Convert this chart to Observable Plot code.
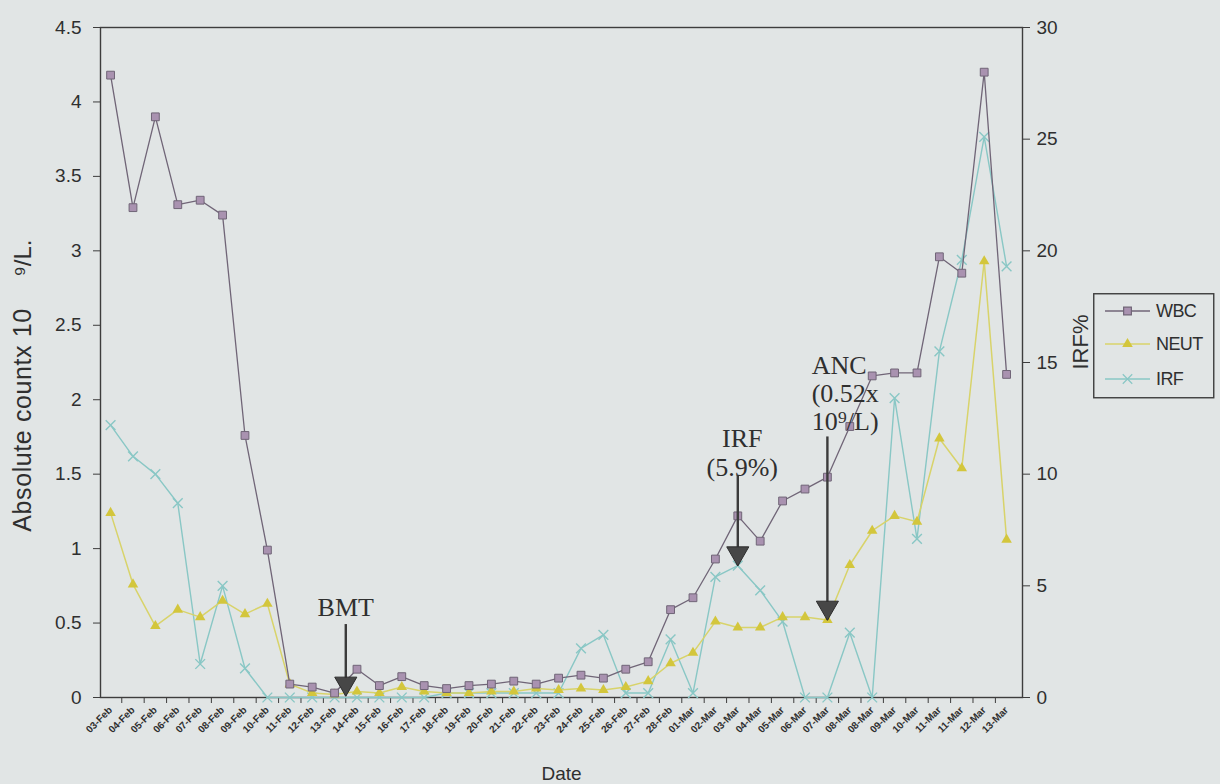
<!DOCTYPE html>
<html>
<head>
<meta charset="utf-8">
<script src="https://cdn.jsdelivr.net/npm/d3@7"></script>
<script src="https://cdn.jsdelivr.net/npm/@observablehq/plot@0.6"></script>
<style>
  html, body { margin: 0; padding: 0; background: #e1e5e5; }
  #wrap { position: relative; width: 1220px; height: 784px; overflow: hidden; }
  #wrap > svg.chart { position: absolute; left: 0; top: 0; }
  #wrap > svg.legend { position: absolute; left: 1093px; top: 293px; }
</style>
</head>
<body>
<div id="wrap"></div>
<script>
// Sampling dates (category axis)
const dates = [
  "03-Feb","04-Feb","05-Feb","06-Feb","07-Feb","08-Feb","09-Feb","10-Feb","11-Feb","12-Feb",
  "13-Feb","14-Feb","15-Feb","16-Feb","17-Feb","18-Feb","19-Feb","20-Feb","21-Feb","22-Feb",
  "23-Feb","24-Feb","25-Feb","26-Feb","27-Feb","28-Feb","01-Mar","02-Mar","03-Mar","04-Mar",
  "05-Mar","06-Mar","07-Mar","08-Mar","08-Mar","09-Mar","10-Mar","11-Mar","11-Mar","12-Mar",
  "13-Mar"
];

// White cell count, x10^9/L (left axis)
const wbc = [
  4.18, 3.29, 3.90, 3.31, 3.34, 3.24, 1.76, 0.99, 0.09, 0.07,
  0.03, 0.19, 0.08, 0.14, 0.08, 0.06, 0.08, 0.09, 0.11, 0.09,
  0.13, 0.15, 0.13, 0.19, 0.24, 0.59, 0.67, 0.93, 1.22, 1.05,
  1.32, 1.40, 1.48, 1.82, 2.16, 2.18, 2.18, 2.96, 2.85, 4.20,
  2.17
];

// Neutrophil count, x10^9/L (left axis)
const neut = [
  1.24, 0.76, 0.48, 0.59, 0.54, 0.65, 0.56, 0.63, 0.09, 0.03,
  0.02, 0.04, 0.03, 0.07, 0.04, 0.03, 0.03, 0.04, 0.04, 0.06,
  0.05, 0.06, 0.05, 0.07, 0.11, 0.23, 0.30, 0.51, 0.47, 0.47,
  0.54, 0.54, 0.52, 0.89, 1.12, 1.22, 1.18, 1.74, 1.54, 2.93,
  1.06
];

// Immature reticulocyte fraction, % (right axis)
const irf = [
  12.2, 10.8, 10.0, 8.7, 1.5, 5.0, 1.3, 0, 0, 0,
  0, 0, 0, 0, 0, 0.2, 0.2, 0.2, 0.2, 0.2,
  0.2, 2.2, 2.8, 0.2, 0.2, 2.6, 0.2, 5.4, 5.9, 4.8,
  3.4, 0, 0, 2.9, 0, 13.4, 7.1, 15.5, 19.6, 25.1,
  19.3
];

const leftTicks = [0, 0.5, 1, 1.5, 2, 2.5, 3, 3.5, 4, 4.5];
const rightTicks = [0, 5, 10, 15, 20, 25, 30];

// IRF% shares the frame: 0–30 % maps onto 0–4.5 of the count axis
const k = 4.5 / 30;

const rows = dates.map((date, i) => ({i, date, wbc: wbc[i], neut: neut[i], irf: irf[i]}));

const sans = "'Liberation Sans', Arial, sans-serif";
const serif = "'Liberation Serif', 'Times New Roman', serif";

const colors = {
  wbcLine: "#706577", wbcFill: "#a992b0",
  neutLine: "#d8d36a", neutFill: "#d3c63c",
  irf: "#89c7c5",
  ink: "#2f2f2f", arrow: "#3b3b3b"
};

// Event annotations: BMT, first IRF rise, neutrophil engraftment
const arrows = [
  {x: 10.5, top: 0.49, tip: 0.01},
  {x: 28, top: 1.49, tip: irf[28] * k},
  {x: 32, top: 1.75, tip: neut[32]}
];

const chart = Plot.plot({
  width: 1220,
  height: 784,
  marginLeft: 100,
  marginRight: 198,
  marginTop: 27,
  marginBottom: 87,
  className: "chart",
  style: {background: "transparent", fontFamily: sans, color: colors.ink, overflow: "visible"},
  x: {type: "linear", domain: [-0.45, 40.71]},
  y: {domain: [0, 4.5]},
  marks: [
    // left count axis
    Plot.axisY({ticks: leftTicks, tickSize: 7, tickPadding: 12, fontSize: 19,
      tickFormat: d => String(d), label: null, stroke: "#3d3d3d"}),
    // right IRF% axis
    Plot.axisY({anchor: "right", ticks: rightTicks.map(v => v * k), tickSize: 7, tickPadding: 7,
      fontSize: 19, tickFormat: d => String(Math.round(d / k)), label: null, stroke: "#3d3d3d"}),
    // category separators on the date axis
    Plot.axisX({ticks: d3.range(0.5, 40, 1), tickSize: 6, tickFormat: () => "", label: null, stroke: "#3d3d3d"}),
    // date labels
    Plot.axisX({ticks: d3.range(0, dates.length), tickSize: 0, tickPadding: 11, tickRotate: -45,
      tickFormat: i => dates[i], fontSize: 10, fontWeight: "bold", label: null}),
    Plot.frame({stroke: "#3d3d3d", strokeWidth: 1.4}),

    // IRF %
    Plot.line(rows, {x: "i", y: d => d.irf * k, stroke: colors.irf, strokeWidth: 1.4}),
    Plot.dot(rows, {x: "i", y: d => d.irf * k, symbol: "times", r: 4.5, stroke: colors.irf, strokeWidth: 1.4}),
    // NEUT
    Plot.line(rows, {x: "i", y: "neut", stroke: colors.neutLine, strokeWidth: 1.5}),
    Plot.dot(rows, {x: "i", y: "neut", symbol: "triangle", r: 3.9, fill: colors.neutFill, stroke: "none"}),
    // WBC
    Plot.line(rows, {x: "i", y: "wbc", stroke: colors.wbcLine, strokeWidth: 1.3}),
    Plot.dot(rows, {x: "i", y: "wbc", symbol: "square", r: 4.4, fill: colors.wbcFill, stroke: colors.wbcLine, strokeWidth: 1}),

    // annotation arrows
    Plot.ruleX(arrows, {x: "x", y1: "top", y2: "tip", stroke: colors.arrow, strokeWidth: 2.4}),
    Plot.dot(arrows, {x: "x", y: "tip", symbol: "triangle", rotate: 180, r: 8.2, dy: -12.5,
      fill: "#474747", stroke: "#2c2c2c", strokeWidth: 1}),

    // annotation texts
    Plot.text(["BMT"], {x: 10.5, y: 0.545, lineAnchor: "bottom", fontFamily: serif, fontSize: 26, fill: colors.ink}),
    Plot.text(["IRF"], {x: 28.2, y: 1.685, lineAnchor: "bottom", fontFamily: serif, fontSize: 26, fill: colors.ink}),
    Plot.text(["(5.9%)"], {x: 28.2, y: 1.49, lineAnchor: "bottom", fontFamily: serif, fontSize: 26, fill: colors.ink}),
    Plot.text(["ANC\n(0.52x\n10⁹/L)"], {x: 31.3, y: 2.31, lineAnchor: "top", textAnchor: "start", lineHeight: 1.08,
      fontFamily: serif, fontSize: 26, fill: colors.ink}),

    // x-axis title
    Plot.text(["Date"], {frameAnchor: "bottom", dy: 82, lineAnchor: "bottom", fontSize: 19, fill: colors.ink})
  ]
});

const wrap = document.getElementById("wrap");
wrap.appendChild(chart);

// Vertical axis titles
const svg = d3.select(chart);
const vtitle = (x, y, text, size, spacing) => svg.append("text")
  .attr("transform", `translate(${x},${y}) rotate(-90)`)
  .attr("text-anchor", "middle")
  .attr("font-family", sans).attr("font-size", size)
  .attr("letter-spacing", spacing)
  .attr("fill", colors.ink)
  .text(text);
vtitle(31, 420, "Absolute countx 10", 25, 0.6);
vtitle(31, 258, "⁹/L.", 24, 0);
vtitle(1088, 342, "IRF%", 22, 0);

// Legend
const series = [
  {name: "WBC", line: colors.wbcLine, symbol: d3.symbolSquare, size: 60, fill: colors.wbcFill, stroke: colors.wbcLine},
  {name: "NEUT", line: colors.neutLine, symbol: d3.symbolTriangle, size: 48, fill: colors.neutFill, stroke: "none"},
  {name: "IRF", line: colors.irf, symbol: d3.symbolTimes, size: 60, fill: "none", stroke: colors.irf}
];
const legend = d3.select(wrap).append("svg")
  .attr("class", "legend")
  .attr("width", 122)
  .attr("height", 106);
legend.append("rect")
  .attr("x", 0.75).attr("y", 0.75).attr("width", 120).attr("height", 104)
  .attr("fill", "none").attr("stroke", "#3d3d3d").attr("stroke-width", 1.4);
const item = legend.selectAll("g.item").data(series).join("g")
  .attr("class", "item")
  .attr("transform", (d, i) => `translate(0,${[18, 51, 86][i]})`);
item.append("line")
  .attr("x1", 12).attr("x2", 57)
  .attr("stroke", d => d.line).attr("stroke-width", 1.4);
item.append("path")
  .attr("transform", "translate(34.5,0)")
  .attr("d", d => d3.symbol(d.symbol, d.size)())
  .attr("fill", d => d.fill).attr("stroke", d => d.stroke).attr("stroke-width", 1.2);
item.append("text")
  .attr("x", 63).attr("dy", "0.36em")
  .attr("font-family", sans).attr("font-size", 18).attr("letter-spacing", -0.6)
  .attr("fill", colors.ink)
  .text(d => d.name);
</script>
</body>
</html>
